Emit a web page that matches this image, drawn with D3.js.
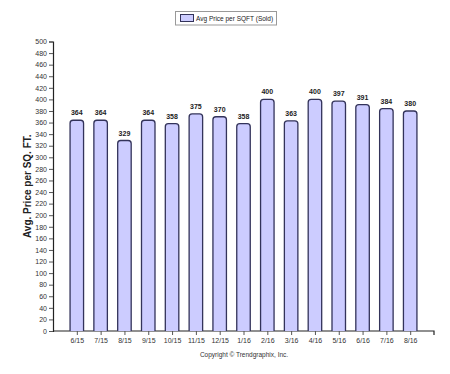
<!DOCTYPE html>
<html><head><meta charset="utf-8">
<script src="https://cdn.jsdelivr.net/npm/d3@7"></script>
<style>body{margin:0;background:#fff}svg{display:block}</style>
</head><body>
<svg id="c" width="450" height="374"></svg>
<script>
const categories = ["6/15","7/15","8/15","9/15","10/15","11/15","12/15","1/16","2/16","3/16","4/16","5/16","6/16","7/16","8/16"];
const values = [364,364,329,364,358,375,370,358,400,363,400,397,391,384,380];
const yTicks = d3.range(0, 501, 20);
const seriesName = "Avg Price per SQFT (Sold)";
const yTitle = "Avg. Price per SQ. FT.";
const copyright = "Copyright \u00A9 Trendgraphix, Inc.";

(function () {
const svg = d3.select("#c");
const mL = 53, mR = 434, mT = 41.5, mB = 331;
const x = d3.scalePoint().domain(categories).range([mL, mR]).padding(1);
const y = d3.scaleLinear().domain([0, 500]).range([mB, mT]);
const font = "Arial, 'Liberation Sans', sans-serif";
const bw = 13.5, r = 3;

// y axis
const ya = svg.append("g").attr("transform", `translate(${mL},0)`)
  .call(d3.axisLeft(y).tickValues(yTicks).tickSize(4).tickPadding(2));
ya.select(".domain").attr("stroke", "#222").attr("stroke-width", 1.2);
ya.selectAll(".tick line").attr("stroke", "#555");
ya.selectAll("text").attr("font-family", font).attr("font-size", 7).attr("fill", "#333");

// x axis
const xa = svg.append("g").attr("transform", `translate(0,${mB})`)
  .call(d3.axisBottom(x).tickSize(4).tickSizeOuter(0).tickPadding(3));
xa.select(".domain").attr("stroke", "#222").attr("stroke-width", 1.2)
  .attr("d", `M${mL},0H${mR}V4`);
xa.selectAll(".tick line").attr("stroke", "#555");
xa.selectAll("text").attr("font-family", font).attr("font-size", 7).attr("fill", "#333");

// bars
const bars = svg.append("g");
categories.forEach((c, i) => {
  const x0 = x(c) - bw/2, x1 = x(c) + bw/2, yt = y(values[i]), yb = mB;
  bars.append("path")
    .attr("d", `M${x0},${yb}V${yt+r}Q${x0},${yt} ${x0+r},${yt}H${x1-r}Q${x1},${yt} ${x1},${yt+r}V${yb}`)
    .attr("fill", "#ccccff").attr("stroke", "#33335a").attr("stroke-width", 1.3);
  bars.append("text").attr("x", x(c)).attr("y", yt - 5)
    .attr("text-anchor", "middle").attr("font-family", font).attr("font-size", 7)
    .attr("font-weight", "bold").attr("fill", "#222").text(values[i]);
});

// y title
svg.append("text").attr("transform", `translate(31,${(mT+mB)/2}) rotate(-90)`)
  .attr("text-anchor", "middle").attr("font-family", font).attr("font-size", 10)
  .attr("font-weight", "bold").attr("fill", "#222").text(yTitle);

// legend
const lg = svg.append("g");
lg.append("rect").attr("x", 175.5).attr("y", 11.5).attr("width", 101).attr("height", 13.5)
  .attr("fill", "#fff").attr("stroke", "#999").attr("stroke-width", 1);
lg.append("rect").attr("x", 180.5).attr("y", 14.5).attr("width", 13).attr("height", 7)
  .attr("fill", "#ccccff").attr("stroke", "#33335a").attr("stroke-width", 1);
lg.append("text").attr("x", 196).attr("y", 20.5).attr("font-family", font).attr("font-size", 6.5)
  .attr("fill", "#222").text(seriesName);

// copyright
svg.append("text").attr("x", 244).attr("y", 357).attr("text-anchor", "middle")
  .attr("font-family", font).attr("font-size", 6.5).attr("fill", "#333").text(copyright);
})();
</script>
</body></html>
